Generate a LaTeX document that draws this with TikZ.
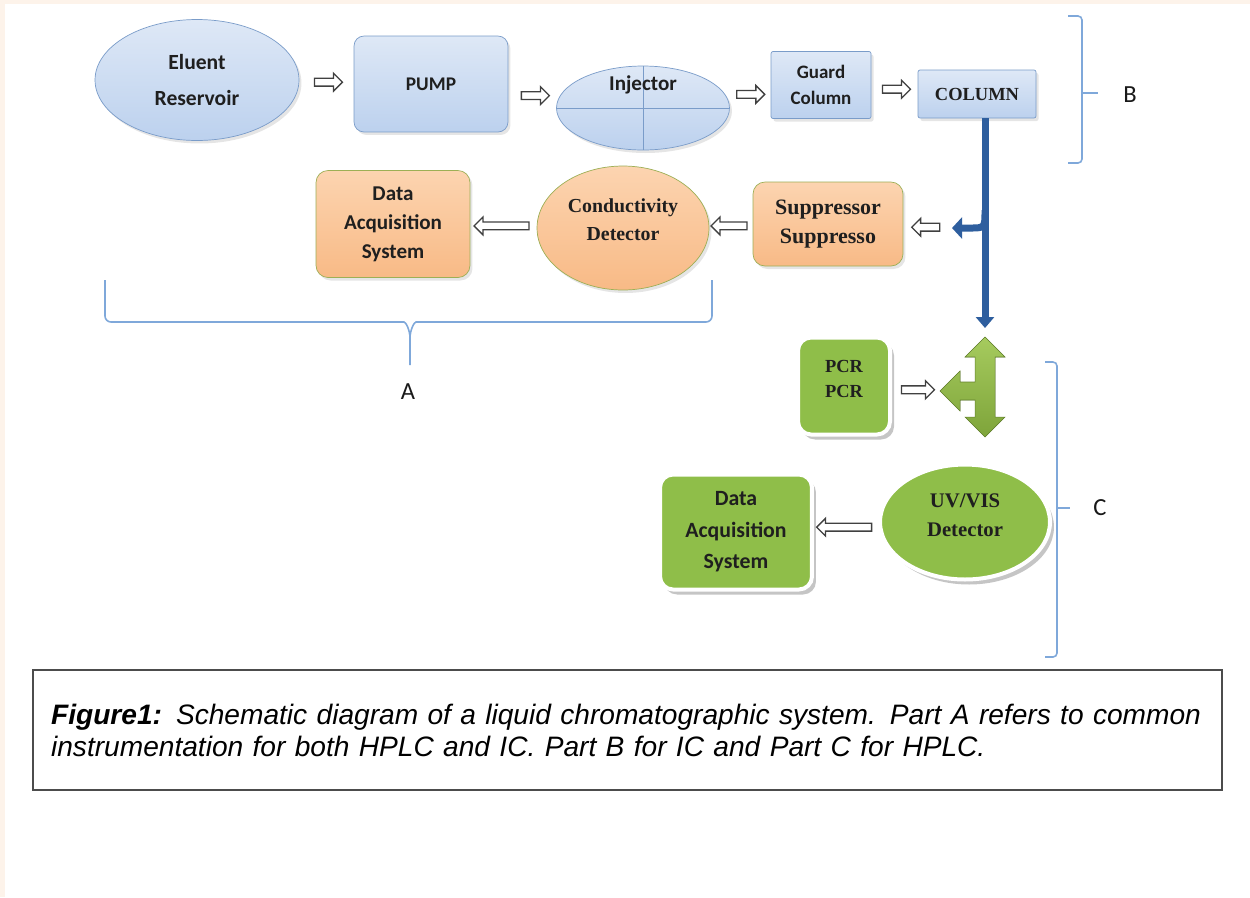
\documentclass[tikz,border=0pt]{standalone}
\usepackage{fontspec}
\setmainfont{Carlito}
\newfontfamily\serifb{Liberation Serif}
\newfontfamily\capfont{Liberation Sans}
\usetikzlibrary{arrows.meta,shapes.geometric,shapes.arrows,shadows}

\definecolor{peach}{HTML}{FDF3EA}
\definecolor{bluetop}{HTML}{DEE8F6}
\definecolor{bluefill}{HTML}{BCD1EE}
\definecolor{blueline}{HTML}{7A9CC9}
\definecolor{orangetop}{HTML}{FCD4B0}
\definecolor{orangefill}{HTML}{F8BA86}
\definecolor{oliveline}{HTML}{9DAF55}
\definecolor{greenfill}{HTML}{8FBE49}
\definecolor{greentop}{HTML}{A6CB5E}
\definecolor{greenbot}{HTML}{7EA43A}
\definecolor{pipeblue}{HTML}{2E5E9E}
\definecolor{brkblue}{HTML}{7FA8DA}

\begin{document}
\begin{tikzpicture}[x=0.02cm,y=-0.02cm,
            sansb/.style={font=\bfseries\fontsize{12}{17}\selectfont,text=black!88},
            serb/.style={font=\serifb\bfseries\fontsize{11.5}{16.5}\selectfont,text=black!88},
            box/.style={draw,inner sep=0pt,align=center,sansb},
            bluebox/.style={box,rectangle,rounded corners=0.2cm,draw=blueline,top color=bluetop,bottom color=bluefill,
              drop shadow={opacity=0.2,shadow xshift=0.05cm,shadow yshift=-0.06cm}},
            blueoval/.style={bluebox,ellipse,sharp corners},
            orangebox/.style={box,rectangle,rounded corners=0.24cm,draw=oliveline,top color=orangetop,bottom color=orangefill,
              drop shadow={opacity=0.2,shadow xshift=0.05cm,shadow yshift=-0.06cm}},
            orangeoval/.style={orangebox,ellipse,sharp corners},
            greenbox/.style={box,rectangle,rounded corners=0.26cm,draw=white,line width=0.08cm,fill=greenfill,
              drop shadow={opacity=0.45,shadow xshift=0.08cm,shadow yshift=-0.1cm}},
            greenoval/.style={greenbox,ellipse,sharp corners},
            harrow/.style={single arrow,draw=black!75,fill=white,line width=0.75pt,inner sep=0.065cm,
              single arrow head extend=0.1cm,single arrow head indent=0pt},
            flowR/.style={draw=none,to path={(\tikztostart) -- (\tikztotarget) node[harrow,midway,minimum height=#1] {}}},
            flowL/.style={draw=none,to path={(\tikztostart) -- (\tikztotarget) node[harrow,midway,minimum height=#1,shape border rotate=180] {}}},
            pipe/.style={draw=pipeblue,line width=0.14cm},
            brk/.style={draw=brkblue,line width=0.9pt},
            lab/.style={font=\fontsize{14}{16}\selectfont,text=black!90}
          ]
          \useasboundingbox (0,0) rectangle (1250,897);
          \fill[peach] (0,0) rectangle (1250,897);
          \fill[white] (5,4) rectangle (1250,897);

          %top row
          \node[blueoval,minimum width=4.08cm,minimum height=2.42cm,font=\bfseries\fontsize{12.3}{20}\selectfont] (res) at (197,80) {Eluent\\Reservoir};
          \node[bluebox,minimum width=3.08cm,minimum height=1.92cm,font=\bfseries\fontsize{11}{14}\selectfont] (pump) at (431,84) {PUMP};
          \node[blueoval,minimum width=3.46cm,minimum height=1.68cm,
            path picture={\draw[blueline] (path picture bounding box.west) -- (path picture bounding box.east);
                          \draw[blueline] (path picture bounding box.north) -- (path picture bounding box.south);},
            label={[sansb,yshift=0.46cm]center:Injector}] (inj) at (643,108) {};
          \node[bluebox,rounded corners=0.04cm,minimum width=2cm,minimum height=1.34cm,font=\bfseries\fontsize{10.8}{15}\selectfont] (guard) at (821,85) {Guard\\Column};
          \node[bluebox,rounded corners=0.04cm,minimum width=2.36cm,minimum height=0.96cm,serb,font=\serifb\bfseries\fontsize{10.5}{13}\selectfont] (col) at (977,94) {COLUMN};

          %IC row
          \node[orangebox,minimum width=3cm,minimum height=1.68cm,serb,font=\serifb\bfseries\fontsize{12.5}{17}\selectfont] (supp) at (828,224) {Suppressor\\Suppresso};
          \node[orangeoval,minimum width=3.44cm,minimum height=2.48cm,serb,font=\serifb\bfseries\fontsize{11.3}{16}\selectfont] (cond) at (623,228) {Conductivity\\Detector\\[-6pt]};
          \node[orangebox,minimum width=3.08cm,minimum height=2.14cm,font=\bfseries\fontsize{12}{16.5}\selectfont] (daqA) at (393,224) {Data\\Acquisition\\System};

          %HPLC part
          \node[greenbox,minimum width=1.84cm,minimum height=1.94cm,serb,font=\serifb\bfseries\fontsize{10.5}{14}\selectfont] (pcr) at (844,386) {PCR\\PCR\\[-6pt]};
          \node[greenoval,minimum width=3.4cm,minimum height=2.3cm,serb,font=\serifb\bfseries\fontsize{11.8}{16.5}\selectfont] (uv) at (965,522) {UV/VIS\\Detector\\[-8.5pt]};
          \node[greenbox,minimum width=3.04cm,minimum height=2.3cm,font=\bfseries\fontsize{12.4}{18}\selectfont] (daqC) at (736,532) {Data\\Acquisition\\System};

          %blue pipe
          \coordinate (pipetop) at (985,118);
          \coordinate (pipeend) at (985,328);
          \coordinate (junc) at (985,210);
          \coordinate (tap) at (952,228);
          \draw[pipe,-{Triangle[width=0.42cm,length=0.2cm]}] (junc) .. controls (985,228) .. (970,228) -- (tap);
          \draw[pipe,-{Triangle[width=0.36cm,length=0.22cm]}] (pipetop) -- (pipeend);

          %green fork
          \coordinate (fork) at (940,391);
          \fill[top color=greentop,bottom color=greenbot,draw=greenbot!80!black,line width=0.3pt]
            (985,337) -- (1005,357) -- (995,357) -- (995,417) -- (1005,417) -- (985,437) -- (965,417)
            -- (975,417) -- (975,400) -- (960,400) -- (960,411) -- (fork) -- (960,371) -- (960,382)
            -- (975,382) -- (975,357) -- (965,357) -- cycle;

          %hollow arrows
          \path
          (res) edge[flowR=0.56cm] (pump)
          (pump) edge[flowR=0.56cm] (inj)
          (inj) edge[flowR=0.56cm] (guard)
          (guard) edge[flowR=0.56cm] (col)
          (tap) edge[flowL=0.56cm] (supp)
          (supp) edge[flowL=0.72cm] (cond)
          (cond) edge[flowL=1.1cm] (daqA)
          (pcr) edge[flowR=0.66cm] (fork)
          (uv) edge[flowL=1.1cm] (daqC)
          ;

          %brackets
          \draw[brk] (105,280) [rounded corners=0.12cm] |- (398,322) [sharp corners] to[out=0,in=90] (410,338) -- (410,365);
          \draw[brk] (712,280) [rounded corners=0.12cm] |- (422,322) [sharp corners] to[out=180,in=90] (410,338);
          \draw[brk,rounded corners=0.08cm] (1068,16) -| (1082,93) |- (1068,163);
          \draw[brk] (1082,93) -- (1098,93);
          \draw[brk,rounded corners=0.08cm] (1045,362) -| (1057,508) |- (1045,657);
          \draw[brk] (1057,508) -- (1070,508);
          \node[lab] (labA) at (408,392) {A};
          \node[lab] (labB) at (1130,95) {B};
          \node[lab] (labC) at (1100,508) {C};

          %caption
          \node[draw=black!70,line width=0.04cm,minimum width=23.78cm,minimum height=2.4cm,inner xsep=0.36cm,
            text width=23.06cm,align=left,font=\capfont\itshape\fontsize{16}{18.2}\selectfont] (cap) at (627.5,730)
            {\textbf{Figure1:} Schematic diagram of a liquid chromatographic system. Part A refers to common\\
             instrumentation for both HPLC and IC. Part B for IC and Part C for HPLC.};
      \end{tikzpicture}
\end{document}
